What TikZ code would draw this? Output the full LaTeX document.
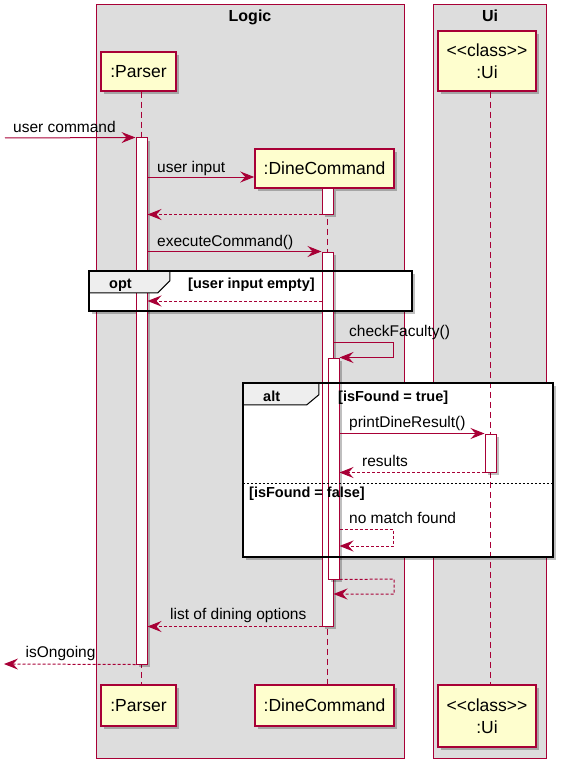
\documentclass[tikz,border=0pt]{standalone}
\usepackage{fontspec}
\setmainfont{Liberation Sans}
\usetikzlibrary{arrows.meta,shadows,calc}
\definecolor{pb}{HTML}{A80036}
\definecolor{pf}{HTML}{FEFECE}
\definecolor{gb}{HTML}{DDDDDD}
\definecolor{tabf}{HTML}{EEEEEE}
\tikzset{
  shad/.style={drop shadow={shadow xshift=3pt,shadow yshift=-3pt,fill=black,opacity=0.25}},
  part/.style={draw=pb, fill=pf, line width=1.5pt, inner sep=0pt, align=center,
    font=\fontsize{17.5}{22}\selectfont, shad},
  grp/.style={draw=pb, fill=gb, line width=1pt, inner sep=0pt},
  gtitle/.style={font=\bfseries\fontsize{16}{19}\selectfont, anchor=base, inner sep=0pt},
  act/.style={draw=pb, fill=white, line width=1pt, minimum width=11pt, inner sep=0pt, shad},
  life/.style={pb, line width=1pt, dash pattern=on 6pt off 4pt},
  msg/.style={pb, line width=1pt, -{Stealth[length=14pt,width=11pt,inset=5pt]}},
  ret/.style={msg, dash pattern=on 3pt off 2pt},
  mlab/.style={font=\fontsize{15.5}{18}\selectfont, anchor=base west, inner sep=0pt},
  flab/.style={font=\bfseries\fontsize{14.5}{17}\selectfont, anchor=base west, inner sep=0pt},
  frfill/.style={fill=white, inner sep=0pt, shad},
  frline/.style={draw=black, line width=2pt},
  tabst/.style={draw=black, fill=tabf, line width=1pt},
}
\begin{document}
\begin{tikzpicture}[x=1pt,y=-1pt]
\useasboundingbox (0,0) rectangle (567,770);
% group boxes
\node[grp, minimum width=308pt, minimum height=753pt] (logic) at (250,381.5) {};
\node[grp, minimum width=113pt, minimum height=753pt] (uibox) at (489.5,381.5) {};
\node[gtitle] (logict) at (250,22) {Logic};
\node[gtitle] (uit) at (490,22) {Ui};
% frame fills
\node[frfill, minimum width=323pt, minimum height=40pt] (opt) at (250.5,291) {};
\node[frfill, minimum width=310pt, minimum height=174pt] (alt) at (398,470) {};
% participants
\node[part, minimum width=75pt, minimum height=39pt] (ph) at (138.5,71.5) {:Parser};
\node[part, minimum width=139pt, minimum height=39pt] (dh) at (324.5,168.5) {:DineCommand};
\node[part, minimum width=98pt, minimum height=60pt] (uh) at (487,61) {<\kern0pt<class>\kern0pt>\\:Ui};
\node[part, minimum width=75pt, minimum height=41pt] (pbot) at (138.5,705.5) {:Parser};
\node[part, minimum width=139pt, minimum height=41pt] (dbot) at (324.5,705.5) {:DineCommand};
\node[part, minimum width=98pt, minimum height=62pt] (ubot) at (487,716) {<\kern0pt<class>\kern0pt>\\:Ui};
% lifelines
\coordinate (Lp) at (141.5,0);
\coordinate (Ld) at (327.5,0);
\coordinate (Lu) at (490.5,0);
\draw[life] (ph.south -| Lp) -- (pbot.north -| Lp);
\draw[life] (dh.south -| Ld) -- (dbot.north -| Ld);
\draw[life] (uh.south -| Lu) -- (ubot.north -| Lu);
% activations
\node[act, minimum height=526pt] (ap) at (141.5,401) {};
\node[act, minimum height=26pt] (ad1) at (327.5,201) {};
\node[act, minimum height=374pt] (ad2) at (327.5,439) {};
\node[act, minimum height=221pt] (ad3) at (333.5,468.5) {};
\node[act, minimum height=38pt] (au) at (490.5,453) {};
% frame borders and tabs
\draw[frline] (opt.north west) rectangle (opt.south east);
\draw[tabst] (opt.north west) -- ++(81,0) -- ++(0,10) -- ++(-12,12) -| (opt.north west);
\draw[frline] (opt.north west) rectangle (opt.south east);
\node[flab] (optl) at (109,288) {opt};
\node[flab] (optc) at (188,288) {[user input empty]};
\draw[frline] (alt.north west) rectangle (alt.south east);
\draw[tabst] (alt.north west) -- ++(76,0) -- ++(0,12) -- ++(-12,10) -| (alt.north west);
\draw[frline] (alt.north west) rectangle (alt.south east);
\node[flab] (altl) at (263,401) {alt};
\node[flab] (altc1) at (338,401) {[isFound = true]};
\coordinate (sep) at (0,483);
\draw[line width=1pt, dash pattern=on 2pt off 2pt] (alt.west |- sep) -- (alt.east |- sep);
\node[flab] (altc2) at (249,497) {[isFound = false]};
% messages
\coordinate (uc) at (5,138);
\draw[msg] (uc) -- (ap.north west);
\node[mlab] (l1) at (13,133) {user command};
\coordinate (m2) at (0,177);
\draw[msg] (ap.east |- m2) -- (dh.west |- m2);
\node[mlab] (l2) at (157,172) {user input};
\draw[ret] (ad1.south west) -- (ap.east |- ad1.south);
\draw[msg] (ap.east |- ad2.north) -- (ad2.north west);
\node[mlab] (l4) at (157,246) {executeCommand()};
\coordinate (m5) at (0,301);
\draw[ret] (ad2.west |- m5) -- (ap.east |- m5);
\coordinate (sf) at (393,342);
\draw[msg] (ad2.east |- sf) -- (sf) |- (ad3.north east);
\node[mlab] (l6) at (349,336) {checkFaculty()};
\draw[msg] (ad3.east |- au.north) -- (au.north west);
\node[mlab] (l7) at (349,427) {printDineResult()};
\draw[ret] (au.south west) -- (ad3.east |- au.south);
\node[mlab] (l8) at (362,466) {results};
\coordinate (nm1) at (393,529);
\coordinate (nm2) at (0,546);
\draw[ret] (ad3.east |- nm1) -- (nm1) |- (ad3.east |- nm2);
\node[mlab] (l9) at (349,523) {no match found};
\coordinate (rr) at (394,579);
\coordinate (rr2) at (0,594);
\draw[ret] (ad3.south east) -- (rr) |- (ad2.east |- rr2);
\draw[ret] (ad2.south west) -- (ap.east |- ad2.south);
\node[mlab] (l11) at (170,619) {list of dining options};
\coordinate (io) at (4,664);
\draw[ret] (ap.south west) -- (io);
\node[mlab] (l12) at (25.5,657) {isOngoing};
\end{tikzpicture}
\end{document}
